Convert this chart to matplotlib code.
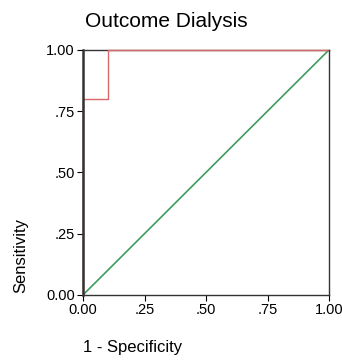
import matplotlib
matplotlib.use("Agg")
import matplotlib.pyplot as plt

plt.rcParams['font.family'] = ['Liberation Sans', 'DejaVu Sans']

# ROC curve points
fpr = [0.0, 0.0, 0.1, 0.1, 1.0]
tpr = [0.0, 0.8, 0.8, 1.0, 1.0]
ref_x = [0.0, 1.0]
ref_y = [0.0, 1.0]

ticks = [0.0, 0.25, 0.5, 0.75, 1.0]
tick_labels = ["0.00", ".25", ".50", ".75", "1.00"]

fig = plt.figure(figsize=(3.42, 3.64), dpi=100)
ax = fig.add_axes([0.243, 0.19, 0.719, 0.673])

ax.plot(ref_x, ref_y, color='#3f9b5f', lw=1.2, zorder=3)
ax.plot(fpr, tpr, color='#d9686a', lw=1.0, zorder=4, clip_on=False)

ax.set_xlim(0, 1)
ax.set_ylim(0, 1)
ax.set_xticks(ticks)
ax.set_xticklabels(tick_labels)
ax.set_yticks(ticks)
ax.set_yticklabels(tick_labels)
ax.tick_params(direction='out', length=4, width=0.8, labelsize=10.5, pad=2)
for name, s in ax.spines.items():
    s.set_color('#333333')
    s.set_linewidth(1.0)
    s.set_zorder(1 if name == 'top' else 5)
ax.spines['left'].set_linewidth(1.8)

fig.text(0.487, 0.94, "Outcome Dialysis", ha='center', va='center', fontsize=15)
fig.text(0.243, 0.044, "1 - Specificity", ha='left', va='center', fontsize=12)
fig.text(0.062, 0.195, "Sensitivity", ha='center', va='bottom', rotation=90, fontsize=12)

fig.savefig("out.png", dpi=100)
